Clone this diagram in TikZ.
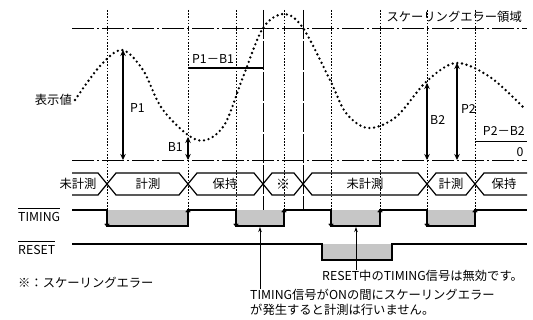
\documentclass[tikz,border=0pt]{standalone}
\usepackage{fontspec}
\setmainfont{Noto Sans CJK JP}
\usetikzlibrary{arrows.meta}
\begin{document}
\begin{tikzpicture}[x=1pt,y=-1pt,
  every node/.style={inner sep=0pt, font=\fontsize{12.3}{15}\selectfont},
  guide/.style={line width=0.8pt, dash pattern=on 1.6pt off 1.6pt},
  errline/.style={line width=0.9pt, dash pattern=on 29pt off 2pt},
  chainline/.style={line width=0.9pt, dash pattern=on 22pt off 3pt on 2pt off 3pt},
  sig/.style={line width=1.2pt, line join=miter},
  bus/.style={line width=1.2pt, line join=miter},
  meas/.style={line width=1.8pt, {Stealth[length=6pt,width=5.5pt]}-{Stealth[length=6pt,width=5.5pt]}},
  edgearrow/.style={line width=1.2pt, -{To[length=3pt,width=5pt]}},
  notearrow/.style={line width=0.7pt, -{Stealth[length=5pt,width=3.5pt]}},
  wavecurve/.style={line width=2.6pt, line cap=round, dash pattern=on 0pt off 4.7pt},
  fillg/.style={fill=gray!45, draw=none},
  barline/.style={line width=0.9pt}
]
\useasboundingbox (0,0) rectangle (533,320);

% gray fills
\fill[fillg] (107,210) rectangle (188,226);
\fill[fillg] (236,210) rectangle (284,226);
\fill[fillg] (331,210) rectangle (380,226);
\fill[fillg] (427,210) rectangle (475,226);
\fill[fillg] (322,244) rectangle (392,260);

% guide lines
\foreach \x in {107,188,236,284,331,380,427,475}
  \draw[guide] (\x,10) -- (\x,210);
\foreach \x in {263,303}
  \draw[errline] (\x,10) -- (\x,210);

% horizontal reference lines
\coordinate (errL) at (72,28);
\coordinate (errR) at (527,28);
\coordinate (zeroL) at (72,160);
\coordinate (zeroR) at (527,160);
\draw[chainline] (errL) -- (errR);
\draw[chainline] (zeroL) -- (zeroR);

% displayed value curve
\draw[wavecurve] plot[smooth, tension=0.55] coordinates {
 (75,100) (100,66) (122,50) (143,70) (163,110) (197,140) (223,127) (243,77)
 (263,28) (284,14) (303,28) (330,80) (346,113) (368,128) (396,117) (426,82)
 (456,63) (490,77) (523,107)};

% measurements
\coordinate (p1t) at (123,50);  \coordinate (p1b) at (123,160);
\coordinate (b1t) at (188,137); \coordinate (b1b) at (188,160);
\coordinate (b2t) at (427,83);  \coordinate (b2b) at (427,160);
\coordinate (p2t) at (457,63);  \coordinate (p2b) at (457,160);
\draw[meas] (p1t) -- (p1b);
\draw[meas] (b1t) -- (b1b);
\draw[meas] (b2t) -- (b2b);
\draw[meas] (p2t) -- (p2b);
\coordinate (d1a) at (188,68); \coordinate (d1b) at (263,68);
\draw[line width=1.5pt] (d1a) -- (d1b);
\coordinate (d2a) at (475,141.5); \coordinate (d2b) at (527,141.5);
\draw[line width=1.5pt] (d2a) -- (d2b);

\node[anchor=east] (lbl) at (72,100) {表示値};
\node[anchor=west] (lp1) at (130,108) {P1};
\node[anchor=east] (lb1) at (183,147) {B1};
\node[anchor=west] (lp1b1) at (192,59) {P1－B1};
\node[anchor=west] (lb2) at (430,120) {B2};
\node[anchor=west] (lp2) at (461,109) {P2};
\node[anchor=east] (lp2b2) at (525,131) {P2－B2};
\node (lzero) at (520,152) {0};
\node[anchor=east] (lerr) at (522,16.5) {スケーリングエラー領域};

% bus (state) row
\draw[bus] (72,173) -- (98,173) -- (116,195) -- (179,195) -- (197,173) -- (254,173)
  -- (272,195) -- (294,195) -- (312,173) -- (418,173) -- (436,195) -- (466,195)
  -- (484,173) -- (527,173);
\draw[bus] (72,195) -- (98,195) -- (116,173) -- (179,173) -- (197,195) -- (254,195)
  -- (272,173) -- (294,173) -- (312,195) -- (418,195) -- (436,173) -- (466,173)
  -- (484,195) -- (527,195);
\node (s1) at (78,184) {未計測};
\node (s2) at (148,184) {計測};
\node (s3) at (225,184) {保持};
\node (s4) at (283,184) {\fontsize{14}{15}\selectfont ※};
\node (s5) at (365,184) {未計測};
\node (s6) at (451,184) {計測};
\node (s7) at (504,184) {保持};

% TIMING signal
\draw[sig] (72,210) -- (107,210) -- (107,226) -- (188,226) -- (188,210) -- (236,210)
  -- (236,226) -- (284,226) -- (284,210) -- (331,210) -- (331,226) -- (380,226)
  -- (380,210) -- (427,210) -- (427,226) -- (475,226) -- (475,210) -- (527,210);
\foreach \x in {107,236,331,427}
  \draw[edgearrow] (\x,212) -- (\x,226.5);
\foreach \x in {188,284,380,475}
  \draw[edgearrow] (\x,224) -- (\x,209.5);

% RESET signal
\draw[sig] (72,244) -- (322,244) -- (322,260) -- (392,260) -- (392,244) -- (527,244);

\node[anchor=west] (ltiming) at (18,216.5) {TIMING};
\node[anchor=west] (lreset) at (18,250) {RESET};
\draw[barline] (ltiming.west |- 0,208) -- (ltiming.east |- 0,208);
\draw[barline] (lreset.west |- 0,241.5) -- (lreset.east |- 0,241.5);
\node[anchor=west] (lnote) at (18,283) {※：スケーリングエラー};

% annotations
\node[anchor=west] (n1) at (250,295) {TIMING信号がONの間にスケーリングエラー};
\node[anchor=west] (n2) at (250,310) {が発生すると計測は行いません。};
\node[anchor=west] (n3) at (322,276) {RESET中のTIMING信号は無効です。};
\coordinate (t1) at (260,227);
\coordinate (t2) at (356,227);
\draw[notearrow] (n1.north -| t1) -- (t1);
\draw[notearrow] (n3.north -| t2) -- (t2);
\end{tikzpicture}
\end{document}
